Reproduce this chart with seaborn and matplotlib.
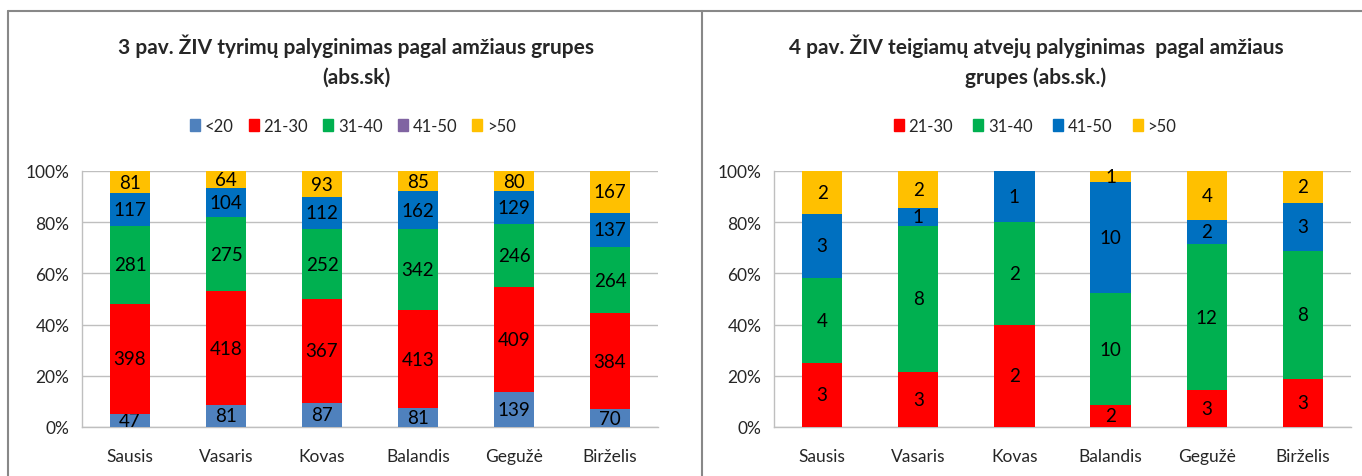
import seaborn as sns
import matplotlib.pyplot as plt
from matplotlib.patches import Patch
from matplotlib.lines import Line2D
import numpy as np
import pandas as pd

# Mėnesiai
months = ["Sausis", "Vasaris", "Kovas", "Balandis", "Gegužė", "Birželis"]

# 3 pav. - tyrimai pagal amžiaus grupes (abs. sk.)
tests_lt20 = [47, 81, 87, 81, 139, 70]
tests_21_30 = [398, 418, 367, 413, 409, 384]
tests_31_40 = [281, 275, 252, 342, 246, 264]
tests_41_50 = [117, 104, 112, 162, 129, 137]
tests_gt50 = [81, 64, 93, 85, 80, 167]

# 4 pav. - teigiami atvejai pagal amžiaus grupes (abs. sk.)
pos_21_30 = [3, 3, 2, 2, 3, 3]
pos_31_40 = [4, 8, 2, 10, 12, 8]
pos_41_50 = [3, 1, 1, 10, 2, 3]
pos_gt50 = [2, 2, 0, 1, 4, 2]

BLUE_LIGHT = "#4F81BD"
RED = "#FF0000"
GREEN = "#00B050"
PURPLE = "#8064A2"
BLUE = "#0070C0"
YELLOW = "#FFC000"
GRID = "#BFBFBF"

sns.set_theme(style="white")
plt.rcParams['font.family'] = ['Lato', 'DejaVu Sans']

fig = plt.figure(figsize=(13.62, 4.77), dpi=100)
W, H = 1362, 477


def px_axes(x0, y_top, x1, y_bot):
    return fig.add_axes([x0 / W, 1 - y_bot / H, (x1 - x0) / W, (y_bot - y_top) / H])


def stacked(ax, series, colors, hide_zero=False):
    vals = np.array(series, dtype=float)
    pct = vals / vals.sum(axis=0) * 100
    bottom = np.zeros(len(months))
    for i, col in enumerate(colors):
        d = pd.DataFrame({"month": months, "pct": pct[i]})
        sns.barplot(data=d, x="month", y="pct", bottom=bottom, color=col,
                    width=0.42, errorbar=None, saturation=1, ax=ax,
                    linewidth=0, zorder=3)
        cont = ax.containers[-1]
        labels = [("" if (hide_zero and v == 0) else str(v)) for v in series[i]]
        ax.bar_label(cont, labels=labels, label_type="center", fontsize=13.5,
                     color="black")
        bottom = bottom + pct[i]

    ax.set_ylim(0, 100)
    ax.set_xlim(-0.5, len(months) - 0.5)
    ax.set_yticks(range(0, 101, 20))
    ax.set_yticklabels([f"{v}%" for v in range(0, 101, 20)], fontsize=12.5)
    ax.yaxis.grid(True, color=GRID, linewidth=1, zorder=0)
    ax.set_axisbelow(True)
    ax.set_xlabel("")
    ax.set_ylabel("")
    ax.tick_params(axis="x", which="major", length=0, labelsize=12.5, pad=15)
    ax.set_xticks(np.arange(-0.5, len(months), 1), minor=True)
    ax.tick_params(axis="x", which="minor", length=6, color=GRID, width=1,
                   direction="out")
    ax.tick_params(axis="y", length=5, color=GRID, width=1, direction="out",
                   pad=4)
    for s in ["top", "right"]:
        ax.spines[s].set_visible(False)
    for s in ["left", "bottom"]:
        ax.spines[s].set_color(GRID)
        ax.spines[s].set_linewidth(1)


ax1 = px_axes(82, 172, 658, 428)
stacked(ax1, [tests_lt20, tests_21_30, tests_31_40, tests_41_50, tests_gt50],
        [BLUE_LIGHT, RED, GREEN, BLUE, YELLOW])

ax2 = px_axes(774, 172, 1351, 428)
stacked(ax2, [pos_21_30, pos_31_40, pos_41_50, pos_gt50],
        [RED, GREEN, BLUE, YELLOW], hide_zero=True)

# Titles
tkw = dict(ha="center", va="center", fontsize=15, fontweight="bold")
fig.text(356 / W, 1 - 46 / H, "3 pav. ŽIV tyrimų palyginimas pagal amžiaus grupes", **tkw)
fig.text(356 / W, 1 - 78 / H, "(abs.sk)", **tkw)
fig.text(1036 / W, 1 - 46 / H, "4 pav. ŽIV teigiamų atvejų palyginimas  pagal amžiaus", **tkw)
fig.text(1036 / W, 1 - 78 / H, "grupes (abs.sk.)", **tkw)

# Legends
h1 = [Patch(color=c, label=l) for c, l in zip(
    [BLUE_LIGHT, RED, GREEN, PURPLE, YELLOW], ["<20", "21-30", "31-40", "41-50", ">50"])]
fig.legend(handles=h1, loc="center", bbox_to_anchor=(353 / W, 1 - 127 / H), ncol=5,
           frameon=False, fontsize=12, handlelength=0.6, handleheight=0.7,
           handletextpad=0.3, columnspacing=0.9)
h2 = [Patch(color=c, label=l) for c, l in zip(
    [RED, GREEN, BLUE, YELLOW], ["21-30", "31-40", "41-50", ">50"])]
fig.legend(handles=h2, loc="center", bbox_to_anchor=(1035 / W, 1 - 127 / H), ncol=4,
           frameon=False, fontsize=12, handlelength=0.6, handleheight=0.7,
           handletextpad=0.3, columnspacing=1.2)

# Panel frames
frame = dict(color="#888888", linewidth=1.5, transform=fig.transFigure)
fig.add_artist(Line2D([8 / W, 8 / W], [0, 1 - 12 / H], **frame))
fig.add_artist(Line2D([8 / W, 1], [1 - 12 / H, 1 - 12 / H], **frame))
fig.add_artist(Line2D([702 / W, 702 / W], [0, 1 - 12 / H], **frame))

fig.savefig("out.png", dpi=100)
